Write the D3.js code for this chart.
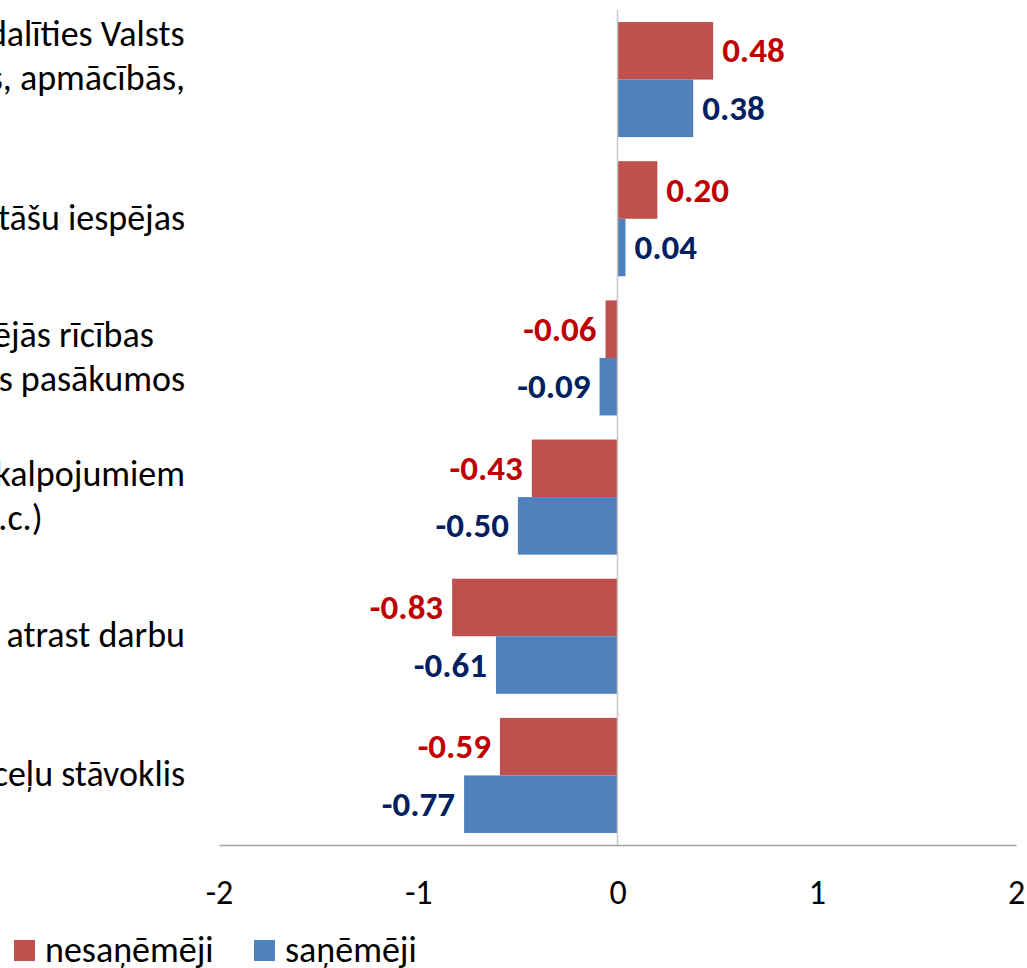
<!DOCTYPE html>
<html>
<head>
<meta charset="utf-8">
<script src="https://cdn.jsdelivr.net/npm/d3@7"></script>
<style>
  body { margin: 0; background: #fff; }
  svg { display: block; font-family: Carlito, Calibri, Lato, sans-serif; }
</style>
</head>
<body>
<div id="chart"></div>
<script>
// categories (each one is a list of label lines, the chart cuts them off on the left)
const categories = [
    ["Iespējas bezdarbniekiem arī piedalīties Valsts", "nodarbinātības aģentūras kursos, apmācībās,", "semināros"],
    ["Brīvā laika aktivitāšu iespējas"],
    ["Dalības iespējas novada kopējās rīcības", "programmās un nodarbinātības pasākumos"],
    ["Pieejamība sociālajiem pakalpojumiem", "(pabalsti, kursi u.c.)"],
    ["Iespējas atrast darbu"],
    ["Pašvaldības ceļu stāvoklis"]
];
const seriesNames = ["nesaņēmēji", "saņēmēji"];
const nesanemeji = [0.48, 0.20, -0.06, -0.43, -0.83, -0.59];
const sanemeji = [0.38, 0.04, -0.09, -0.50, -0.61, -0.77];
const xTicks = [-2, -1, 0, 1, 2];

const barColors = ["#C0504D", "#4F81BD"];
const labelColors = ["#C00000", "#002060"];

const width = 1027, height = 968;
const plotTop = 10, plotBottom = 845;

const svg = d3.select("#chart").append("svg")
    .attr("width", width)
    .attr("height", height);

const keys = categories.map((c, i) => "c" + i);
const rows = keys.map((k, i) => ({
    key: k,
    lines: categories[i],
    values: [nesanemeji[i], sanemeji[i]]
}));

const x = d3.scaleLinear().domain([-2, 2]).range([219, 1016]);
const y0 = d3.scaleBand().domain(keys).range([plotTop, plotBottom])
    .paddingInner(0.173).paddingOuter(0.0865);
const y1 = d3.scaleBand().domain(seriesNames).range([0, y0.bandwidth()]);

// plain hyphen for negatives, like the original
const fmtVal = v => v.toFixed(2);

// x axis
const xAxis = d3.axisBottom(x).tickValues(xTicks).tickSize(0).tickSizeOuter(0)
    .tickPadding(35).tickFormat(d => String(d));
const gx = svg.append("g")
    .attr("transform", "translate(0," + plotBottom + ")")
    .call(xAxis);
gx.select(".domain").attr("stroke", "#A0A0A0").attr("stroke-width", 1.3);
gx.selectAll("text")
    .attr("font-size", "34px")
    .attr("font-family", "Carlito, Calibri, Lato, sans-serif")
    .attr("fill", "#000");

// bars
const groups = svg.selectAll("g.cat")
    .data(rows)
    .enter()
    .append("g")
    .attr("class", "cat")
    .attr("transform", d => "translate(0," + y0(d.key) + ")");

groups.selectAll("rect")
    .data(d => d.values.map((v, j) => ({ v: v, s: seriesNames[j], j: j })))
    .enter()
    .append("rect")
    .attr("x", d => x(Math.min(0, d.v)))
    .attr("y", d => y1(d.s))
    .attr("width", d => Math.abs(x(d.v) - x(0)))
    .attr("height", y1.bandwidth())
    .attr("fill", d => barColors[d.j]);

// zero line
svg.append("line")
    .attr("x1", x(0)).attr("x2", x(0))
    .attr("y1", plotTop).attr("y2", plotBottom)
    .attr("stroke", "#C8C8C8")
    .attr("stroke-width", 1.5);

// value labels
const labelSize = 35;
groups.selectAll("text.val")
    .data(d => d.values.map((v, j) => ({ v: v, s: seriesNames[j], j: j })))
    .enter()
    .append("text")
    .attr("class", "val")
    .attr("x", d => d.v >= 0 ? x(d.v) + 9 : x(d.v) - 9)
    .attr("y", d => y1(d.s) + y1.bandwidth() / 2 + labelSize * 0.33)
    .attr("text-anchor", d => d.v >= 0 ? "start" : "end")
    .attr("font-size", labelSize + "px")
    .attr("font-weight", "bold")
    .attr("fill", d => labelColors[d.j])
    .text(d => fmtVal(d.v));

// category labels, lines centred on each other, longest line ends at x=185
const catSize = 36, lineH = 44;
rows.forEach(d => {
    const t = svg.append("text")
        .attr("font-size", catSize + "px")
        .attr("fill", "#000")
        .attr("text-anchor", "middle");
    const n = d.lines.length;
    const cy = y0(d.key) + y0.bandwidth() / 2 + catSize * 0.3;
    const spans = d.lines.map((line, i) => t.append("tspan")
        .attr("y", cy + (i - (n - 1) / 2) * lineH)
        .text(line));
    const maxW = d3.max(spans, s => s.node().getComputedTextLength());
    spans.forEach(s => s.attr("x", 185 - maxW / 2));
});

// legend
const legend = svg.append("g").attr("transform", "translate(14,940)");
const legendX = [0, 240];
seriesNames.forEach((name, j) => {
    legend.append("rect")
        .attr("x", legendX[j]).attr("y", 0)
        .attr("width", 21).attr("height", 21)
        .attr("fill", barColors[j]);
    legend.append("text")
        .attr("x", legendX[j] + 31)
        .attr("y", 22)
        .attr("font-size", "36px")
        .attr("fill", "#000")
        .text(name);
});
</script>
</body>
</html>
